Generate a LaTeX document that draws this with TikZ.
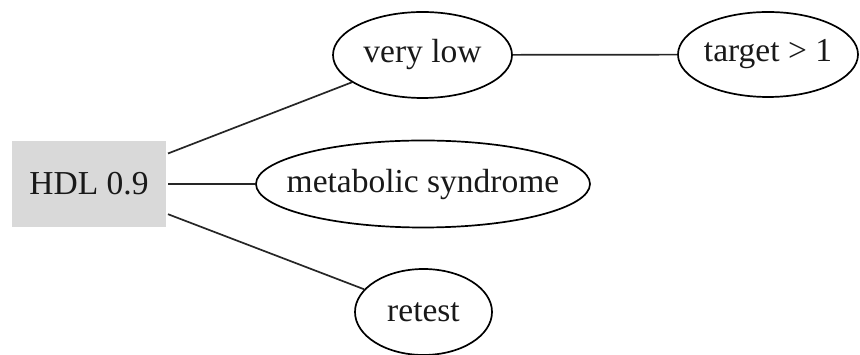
\documentclass[tikz,border=0pt]{standalone}
\usepackage{fontspec}
\setmainfont{Liberation Serif}
\usetikzlibrary{shapes.geometric}
\definecolor{boxgray}{HTML}{D9D9D9}
\definecolor{edgegray}{HTML}{262626}
\newcommand{\zw}[1]{\makebox[0pt]{#1}}
\tikzset{
  ell/.style={ellipse, draw=black, line width=1.7pt, inner sep=0pt, font=\fontsize{33.5}{35}\selectfont, text=black!90},
  hdlbox/.style={rectangle, fill=boxgray, inner sep=0pt, outer sep=2pt, minimum width=154pt, minimum height=86pt, font=\fontsize{33.5}{35}\selectfont, text=black!90},
  edge/.style={draw=edgegray, line width=1.7pt}
}
\begin{document}
\begin{tikzpicture}[x=1pt,y=1pt]
\useasboundingbox (0,0) rectangle (860,355);
\node[hdlbox] (hdl) at (89,171) {HDL 0.9};
\node[ell, minimum width=179pt, minimum height=86pt] (vl) at (422.5,300) {\zw{very low}};
\node[ell, minimum width=334pt, minimum height=87pt] (ms) at (423,171) {\zw{metabolic syndrome}};
\node[ell, minimum width=137pt, minimum height=86pt] (rt) at (423.5,43) {\zw{retest}};
\node[ell, minimum width=180pt, minimum height=85pt] (tg) at (768,300.5) {\zw{target > 1}};
\path[edge] (hdl) -- (ms);
\path[edge] (hdl) -- (vl);
\path[edge] (hdl) -- (rt);
\path[edge] (vl) -- (tg);
\end{tikzpicture}
\end{document}
